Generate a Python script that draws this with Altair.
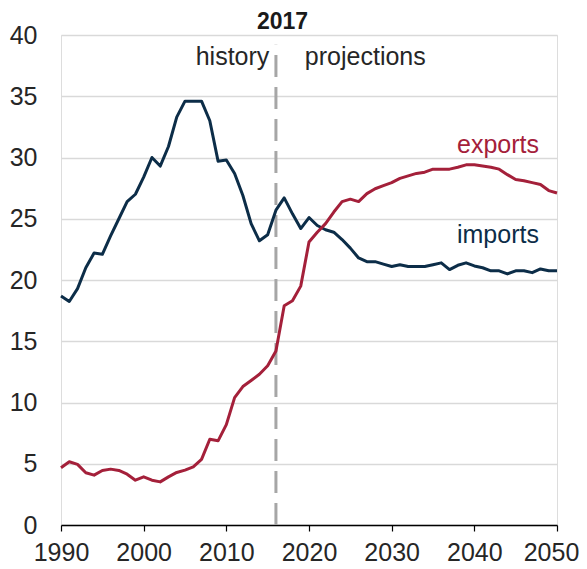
import altair as alt
import pandas as pd

years = list(range(1990, 2051))

imports = [18.7, 18.25, 19.3, 21.0, 22.2, 22.1, 23.6, 25.0, 26.4, 27.0,
           28.4, 30.0, 29.3, 30.9, 33.3, 34.6, 34.6, 34.6, 33.0, 29.7,
           29.8, 28.7, 26.9, 24.6, 23.2, 23.7, 25.7, 26.7, 25.4, 24.2,
           25.1, 24.45, 24.1, 23.9, 23.3, 22.6, 21.8, 21.5, 21.5, 21.3,
           21.1, 21.25, 21.1, 21.1, 21.1, 21.25, 21.4, 20.85, 21.2, 21.4,
           21.15, 21.0, 20.75, 20.75, 20.5, 20.75, 20.75, 20.6, 20.9, 20.75,
           20.75]

exports = [4.67, 5.16, 4.95, 4.26, 4.07, 4.45, 4.56, 4.45, 4.15, 3.66,
           3.93, 3.66, 3.52, 3.93, 4.29, 4.48, 4.75, 5.36, 7.0, 6.87,
           8.19, 10.4, 11.3, 11.8, 12.3, 13.0, 14.2, 17.9, 18.3, 19.5,
           23.1, 23.9, 24.6, 25.55, 26.4, 26.6, 26.4, 27.05, 27.45, 27.7,
           27.95, 28.3, 28.5, 28.7, 28.8, 29.05, 29.05, 29.05, 29.2, 29.4,
           29.4, 29.3, 29.2, 29.05, 28.6, 28.2, 28.1, 27.95, 27.8, 27.3,
           27.1]

series_names = ["imports", "exports"]
series_colors = ["#0c2d48", "#a4203a"]

x_ticks = [1990, 2000, 2010, 2020, 2030, 2040, 2050]
y_ticks = [0, 5, 10, 15, 20, 25, 30, 35, 40]

divider_year = [2016]
divider_label = ["2017"]
phase_labels = ["history", "projections"]
phase_x = [2015.2, 2019.5]

series_label_x = [2037.9, 2037.9]
series_label_y = [23.0, 30.4]

FONT = "Liberation Sans"

rows = []
for name, vals in zip(series_names, [imports, exports]):
    for yr, v in zip(years, vals):
        rows.append({"year": yr, "value": v, "series": name})
df = pd.DataFrame(rows)

xscale = alt.Scale(domain=[1990, 2050], nice=False, zero=False)
yscale = alt.Scale(domain=[0, 40], nice=False)
color_scale = alt.Scale(domain=series_names, range=series_colors)

base_x = alt.X("year:Q", scale=xscale,
               axis=alt.Axis(values=x_ticks, format="d", title=None, grid=False,
                             domainColor="#000000", domainWidth=1.5,
                             tickColor="#000000", tickSize=6, tickWidth=1.2,
                             labelFont=FONT, labelFontSize=25, labelColor="#262626",
                             labelPadding=9, labelFlush=False,
                             labelOffset={"condition": {"test": "datum.value == 2050", "value": -6},
                                          "value": 0}))
base_y = alt.Y("value:Q", scale=yscale,
               axis=alt.Axis(values=y_ticks, title=None, grid=True,
                             gridColor="#d9d9d9", gridWidth=1.5,
                             domain=False, ticks=False,
                             labelFont=FONT, labelFontSize=25, labelColor="#262626",
                             labelPadding=24))

lines = alt.Chart(df).mark_line(strokeWidth=3, strokeJoin="round").encode(
    x=base_x, y=base_y,
    color=alt.Color("series:N", scale=color_scale, legend=None),
    detail="series:N",
)

rule_df = pd.DataFrame({"year": divider_year, "y0": [0], "y1": [39.2]})
rule = alt.Chart(rule_df).mark_rule(color="#a6a6a6", strokeWidth=3,
                                    strokeDash=[22, 10]).encode(
    x=alt.X("year:Q", scale=xscale),
    y=alt.Y("y0:Q", scale=yscale),
    y2="y1:Q",
)

title_df = pd.DataFrame({"year": [divider_year[0] + 0.8], "value": [40.52], "label": divider_label})
title_text = alt.Chart(title_df).mark_text(font=FONT, fontSize=23, fontWeight="bold",
                                           color="#1a1a1a", align="center",
                                           baseline="alphabetic").encode(
    x=alt.X("year:Q", scale=xscale), y=alt.Y("value:Q", scale=yscale), text="label:N")

phase_df = pd.DataFrame({"year": phase_x, "value": [37.55, 37.55], "label": phase_labels})
hist_text = alt.Chart(phase_df.iloc[[0]]).mark_text(font=FONT, fontSize=25, color="#262626",
                                                     align="right", baseline="alphabetic").encode(
    x=alt.X("year:Q", scale=xscale), y=alt.Y("value:Q", scale=yscale), text="label:N")
proj_text = alt.Chart(phase_df.iloc[[1]]).mark_text(font=FONT, fontSize=25, color="#262626",
                                                     align="left", baseline="alphabetic").encode(
    x=alt.X("year:Q", scale=xscale), y=alt.Y("value:Q", scale=yscale), text="label:N")

lab_df = pd.DataFrame({"year": series_label_x, "value": series_label_y, "series": series_names})
series_text = alt.Chart(lab_df).mark_text(font=FONT, fontSize=25, align="left",
                                          baseline="alphabetic").encode(
    x=alt.X("year:Q", scale=xscale), y=alt.Y("value:Q", scale=yscale),
    text="series:N",
    color=alt.Color("series:N", scale=color_scale, legend=None))

chart = alt.layer(rule, lines, title_text, hist_text, proj_text, series_text).properties(
    width=496, height=490,
    autosize=alt.AutoSizeParams(type="none"),
    padding={"left": 53, "top": 27, "right": 22, "bottom": 44},
).configure_view(stroke=None).configure(background="#ffffff")

chart.save("out.html", embed_options={"renderer": "svg", "actions": False})
